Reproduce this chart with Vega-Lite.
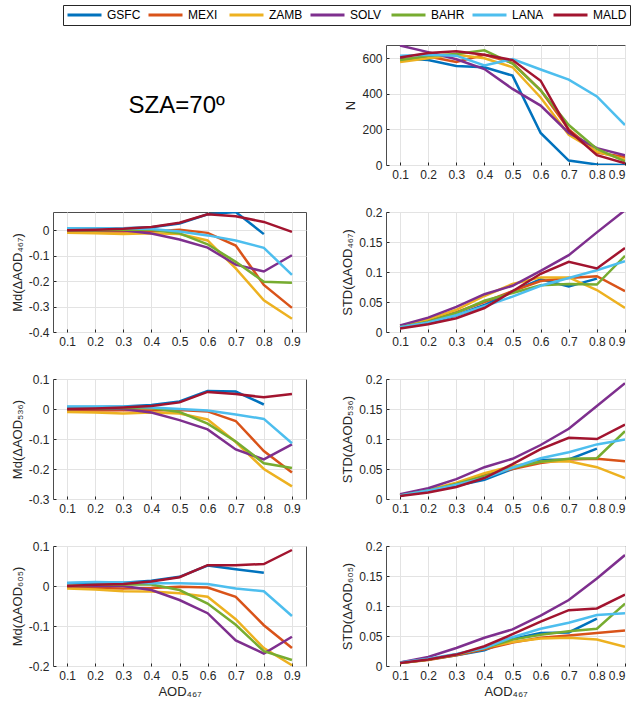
{
  "$schema": "https://vega.github.io/schema/vega-lite/v6.json",
  "padding": {"left": 10, "top": 4, "right": 0, "bottom": 0},
  "background": "white",
  "config": {
    "locale": {"number": {"decimal": ".", "thousands": ",", "grouping": [3], "currency": ["$", ""], "minus": "-"}},
    "font": "Liberation Sans",
    "view": {"stroke": "#4d4d4d", "strokeWidth": 1},
    "axis": {
      "labelFont": "Liberation Sans", "labelFontSize": 12, "labelColor": "#262626",
      "titleFont": "Liberation Sans", "titleFontSize": 13, "titleFontWeight": "normal", "titleColor": "#262626",
      "gridColor": "#e3e3e3", "domain": false, "tickColor": "#262626", "tickSize": -3, "labelPadding": 7
    },
    "legend": {
      "orient": "none", "legendX": 10, "legendY": -40, "direction": "horizontal", "columns": 7,
      "gridAlign": "all", "columnPadding": 6, "symbolType": "stroke", "symbolSize": 1156,
      "symbolStrokeWidth": 3, "labelOffset": 4, "labelFontSize": 12, "labelFont": "Liberation Sans",
      "labelColor": "#000000", "strokeColor": "#262626", "fillColor": "white", "padding": 3, "title": null,
      "clipHeight": 14
    }
  },
  "data": {"values": [
    {"station":"GSFC","aod":0.1,"N":600,"md467":0.005,"std467":0.008,"md536":0.007,"std536":0.006,"md605":0.007,"std605":0.006},
    {"station":"GSFC","aod":0.2,"N":590,"md467":0.005,"std467":0.015,"md536":0.007,"std536":0.013,"md605":0.008,"std605":0.011},
    {"station":"GSFC","aod":0.3,"N":557,"md467":0.008,"std467":0.028,"md536":0.008,"std536":0.022,"md605":0.008,"std605":0.018},
    {"station":"GSFC","aod":0.4,"N":550,"md467":0.012,"std467":0.045,"md536":0.013,"std536":0.032,"md605":0.013,"std605":0.026},
    {"station":"GSFC","aod":0.5,"N":503,"md467":0.027,"std467":0.068,"md536":0.025,"std536":0.05,"md605":0.023,"std605":0.045},
    {"station":"GSFC","aod":0.6,"N":180,"md467":0.063,"std467":0.088,"md536":0.06,"std536":0.065,"md605":0.051,"std605":0.055},
    {"station":"GSFC","aod":0.7,"N":25,"md467":0.072,"std467":0.076,"md536":0.058,"std536":0.066,"md605":0.042,"std605":0.056},
    {"station":"GSFC","aod":0.8,"N":3,"md467":-0.015,"std467":0.089,"md536":0.015,"std536":0.084,"md605":0.033,"std605":0.079},
    {"station":"GSFC","aod":0.9,"N":0,"md467":null,"std467":null,"md536":null,"std536":null,"md605":null,"std605":null},
    {"station":"MEXI","aod":0.1,"N":590,"md467":-0.005,"std467":0.008,"md536":-0.005,"std536":0.006,"md605":-0.004,"std605":0.005},
    {"station":"MEXI","aod":0.2,"N":610,"md467":-0.005,"std467":0.018,"md536":-0.005,"std536":0.014,"md605":-0.005,"std605":0.01},
    {"station":"MEXI","aod":0.3,"N":580,"md467":-0.005,"std467":0.033,"md536":-0.004,"std536":0.025,"md605":-0.006,"std605":0.018},
    {"station":"MEXI","aod":0.4,"N":620,"md467":-0.005,"std467":0.05,"md536":-0.005,"std536":0.04,"md605":-0.005,"std605":0.028},
    {"station":"MEXI","aod":0.5,"N":575,"md467":0.002,"std467":0.068,"md536":-0.003,"std536":0.05,"md605":-0.002,"std605":0.039},
    {"station":"MEXI","aod":0.6,"N":420,"md467":-0.01,"std467":0.085,"md536":-0.008,"std536":0.06,"md605":-0.004,"std605":0.047},
    {"station":"MEXI","aod":0.7,"N":200,"md467":-0.06,"std467":0.09,"md536":-0.04,"std536":0.066,"md605":-0.027,"std605":0.051},
    {"station":"MEXI","aod":0.8,"N":70,"md467":-0.215,"std467":0.093,"md536":-0.14,"std536":0.067,"md605":-0.098,"std605":0.055},
    {"station":"MEXI","aod":0.9,"N":45,"md467":-0.305,"std467":0.068,"md536":-0.212,"std536":0.063,"md605":-0.155,"std605":0.059},
    {"station":"ZAMB","aod":0.1,"N":580,"md467":-0.01,"std467":0.01,"md536":-0.01,"std536":0.007,"md605":-0.006,"std605":0.005},
    {"station":"ZAMB","aod":0.2,"N":600,"md467":-0.012,"std467":0.021,"md536":-0.012,"std536":0.015,"md605":-0.009,"std605":0.011},
    {"station":"ZAMB","aod":0.3,"N":620,"md467":-0.015,"std467":0.037,"md536":-0.015,"std536":0.027,"md605":-0.013,"std605":0.019},
    {"station":"ZAMB","aod":0.4,"N":600,"md467":-0.012,"std467":0.06,"md536":-0.012,"std536":0.043,"md605":-0.014,"std605":0.031},
    {"station":"ZAMB","aod":0.5,"N":550,"md467":-0.015,"std467":0.08,"md536":-0.015,"std536":0.055,"md605":-0.018,"std605":0.04},
    {"station":"ZAMB","aod":0.6,"N":380,"md467":-0.04,"std467":0.091,"md536":-0.035,"std536":0.062,"md605":-0.027,"std605":0.046},
    {"station":"ZAMB","aod":0.7,"N":170,"md467":-0.15,"std467":0.091,"md536":-0.11,"std536":0.063,"md605":-0.083,"std605":0.047},
    {"station":"ZAMB","aod":0.8,"N":75,"md467":-0.275,"std467":0.07,"md536":-0.2,"std536":0.053,"md605":-0.155,"std605":0.044},
    {"station":"ZAMB","aod":0.9,"N":30,"md467":-0.348,"std467":0.04,"md536":-0.258,"std536":0.035,"md605":-0.198,"std605":0.032},
    {"station":"SOLV","aod":0.1,"N":672,"md467":0.0,"std467":0.011,"md536":0.0,"std536":0.008,"md605":0.0,"std605":0.006},
    {"station":"SOLV","aod":0.2,"N":635,"md467":0.0,"std467":0.024,"md536":0.0,"std536":0.018,"md605":0.0,"std605":0.015},
    {"station":"SOLV","aod":0.3,"N":595,"md467":0.0,"std467":0.042,"md536":0.0,"std536":0.033,"md605":0.0,"std605":0.03},
    {"station":"SOLV","aod":0.4,"N":540,"md467":-0.013,"std467":0.063,"md536":-0.012,"std536":0.053,"md605":-0.01,"std605":0.047},
    {"station":"SOLV","aod":0.5,"N":428,"md467":-0.036,"std467":0.077,"md536":-0.037,"std536":0.067,"md605":-0.035,"std605":0.061},
    {"station":"SOLV","aod":0.6,"N":334,"md467":-0.068,"std467":0.102,"md536":-0.068,"std536":0.09,"md605":-0.068,"std605":0.084},
    {"station":"SOLV","aod":0.7,"N":180,"md467":-0.135,"std467":0.128,"md536":-0.135,"std536":0.117,"md605":-0.136,"std605":0.11},
    {"station":"SOLV","aod":0.8,"N":95,"md467":-0.162,"std467":0.166,"md536":-0.168,"std536":0.155,"md605":-0.169,"std605":0.146},
    {"station":"SOLV","aod":0.9,"N":55,"md467":-0.098,"std467":0.203,"md536":-0.118,"std536":0.193,"md605":-0.127,"std605":0.185},
    {"station":"BAHR","aod":0.1,"N":590,"md467":0.0,"std467":0.008,"md536":0.0,"std536":0.006,"md605":0.0,"std605":0.005},
    {"station":"BAHR","aod":0.2,"N":615,"md467":0.0,"std467":0.017,"md536":0.002,"std536":0.014,"md605":0.003,"std605":0.011},
    {"station":"BAHR","aod":0.3,"N":625,"md467":0.002,"std467":0.032,"md536":0.003,"std536":0.025,"md605":0.004,"std605":0.019},
    {"station":"BAHR","aod":0.4,"N":645,"md467":0.002,"std467":0.052,"md536":0.003,"std536":0.038,"md605":0.004,"std605":0.03},
    {"station":"BAHR","aod":0.5,"N":570,"md467":-0.012,"std467":0.065,"md536":-0.01,"std536":0.052,"md605":-0.01,"std605":0.044},
    {"station":"BAHR","aod":0.6,"N":420,"md467":-0.055,"std467":0.078,"md536":-0.049,"std536":0.062,"md605":-0.044,"std605":0.052},
    {"station":"BAHR","aod":0.7,"N":225,"md467":-0.124,"std467":0.08,"md536":-0.108,"std536":0.067,"md605":-0.097,"std605":0.058},
    {"station":"BAHR","aod":0.8,"N":90,"md467":-0.202,"std467":0.079,"md536":-0.181,"std536":0.068,"md605":-0.163,"std605":0.062},
    {"station":"BAHR","aod":0.9,"N":20,"md467":-0.206,"std467":0.127,"md536":-0.197,"std536":0.113,"md605":-0.185,"std605":0.104},
    {"station":"LANA","aod":0.1,"N":615,"md467":0.008,"std467":0.008,"md536":0.008,"std536":0.006,"md605":0.008,"std605":0.006},
    {"station":"LANA","aod":0.2,"N":620,"md467":0.008,"std467":0.016,"md536":0.008,"std536":0.014,"md605":0.01,"std605":0.012},
    {"station":"LANA","aod":0.3,"N":615,"md467":0.008,"std467":0.028,"md536":0.008,"std536":0.024,"md605":0.009,"std605":0.02},
    {"station":"LANA","aod":0.4,"N":560,"md467":0.005,"std467":0.043,"md536":0.005,"std536":0.035,"md605":0.007,"std605":0.03},
    {"station":"LANA","aod":0.5,"N":596,"md467":-0.005,"std467":0.059,"md536":0.0,"std536":0.052,"md605":0.007,"std605":0.048},
    {"station":"LANA","aod":0.6,"N":537,"md467":-0.02,"std467":0.077,"md536":-0.005,"std536":0.068,"md605":0.005,"std605":0.062},
    {"station":"LANA","aod":0.7,"N":480,"md467":-0.04,"std467":0.09,"md536":-0.018,"std536":0.078,"md605":-0.006,"std605":0.072},
    {"station":"LANA","aod":0.8,"N":386,"md467":-0.069,"std467":0.103,"md536":-0.033,"std536":0.091,"md605":-0.013,"std605":0.085},
    {"station":"LANA","aod":0.9,"N":225,"md467":-0.175,"std467":0.118,"md536":-0.114,"std536":0.099,"md605":-0.075,"std605":0.088},
    {"station":"MALD","aod":0.1,"N":605,"md467":0.0,"std467":0.006,"md536":0.0,"std536":0.005,"md605":0.0,"std605":0.005},
    {"station":"MALD","aod":0.2,"N":630,"md467":0.002,"std467":0.013,"md536":0.002,"std536":0.011,"md605":0.003,"std605":0.011},
    {"station":"MALD","aod":0.3,"N":640,"md467":0.006,"std467":0.023,"md536":0.005,"std536":0.02,"md605":0.005,"std605":0.019},
    {"station":"MALD","aod":0.4,"N":620,"md467":0.013,"std467":0.04,"md536":0.01,"std536":0.035,"md605":0.011,"std605":0.033},
    {"station":"MALD","aod":0.5,"N":590,"md467":0.03,"std467":0.068,"md536":0.022,"std536":0.058,"md605":0.022,"std605":0.053},
    {"station":"MALD","aod":0.6,"N":474,"md467":0.063,"std467":0.097,"md536":0.057,"std536":0.083,"md605":0.052,"std605":0.074},
    {"station":"MALD","aod":0.7,"N":195,"md467":0.055,"std467":0.117,"md536":0.05,"std536":0.102,"md605":0.052,"std605":0.093},
    {"station":"MALD","aod":0.8,"N":55,"md467":0.033,"std467":0.106,"md536":0.039,"std536":0.1,"md605":0.055,"std605":0.096},
    {"station":"MALD","aod":0.9,"N":10,"md467":-0.006,"std467":0.14,"md536":0.05,"std536":0.124,"md605":0.09,"std605":0.119}
  ]},
  "columns": 2,
  "bounds": "flush",
  "spacing": {"row": 47, "column": 80},
  "concat": [
    {
      "width": 253, "height": 120,
      "view": {"stroke": null},
      "data": {"values": [{"label": "SZA=70º"}]},
      "mark": {"type": "text", "fontSize": 24, "font": "Liberation Sans", "color": "#000000"},
      "encoding": {
        "x": {"datum": 0.49, "type": "quantitative", "scale": {"domain": [0.05, 0.95], "nice": false}, "axis": null},
        "y": {"datum": 0.49, "type": "quantitative", "scale": {"domain": [0, 1], "nice": false}, "axis": null},
        "text": {"field": "label", "type": "nominal"}
      }
    },
    {
      "width": 239, "height": 120,
      "mark": {"type": "line", "strokeWidth": 2.5, "clip": true},
      "encoding": {
        "x": {"field": "aod", "type": "quantitative", "scale": {"domain": [0.05, 0.9], "nice": false}, "axis": {"values": [0.1,0.2,0.3,0.4,0.5,0.6,0.7,0.8,0.9], "title": null}},
        "y": {"field": "N", "type": "quantitative", "scale": {"domain": [0, 675], "nice": false}, "axis": {"values": [0,200,400,600], "title": "N"}},
        "color": {"field": "station", "type": "nominal", "scale": {"domain": ["GSFC","MEXI","ZAMB","SOLV","BAHR","LANA","MALD"], "range": ["#0072BD","#D95319","#EDB120","#7E2F8E","#77AC30","#4DBEEE","#A2142F"]}}
      }
    },
    {
      "width": 253, "height": 120,
      "mark": {"type": "line", "strokeWidth": 2.5, "clip": true},
      "encoding": {
        "x": {"field": "aod", "type": "quantitative", "scale": {"domain": [0.05, 0.95], "nice": false}, "axis": {"values": [0.1,0.2,0.3,0.4,0.5,0.6,0.7,0.8,0.9], "title": null}},
        "y": {"field": "md467", "type": "quantitative", "scale": {"domain": [-0.4, 0.072], "nice": false, "zero": false}, "axis": {"values": [-0.4,-0.3,-0.2,-0.1,0], "format": ".1~f", "title": "Md(ΔAOD₄₆₇)"}},
        "color": {"field": "station", "type": "nominal"}
      }
    },
    {
      "width": 239, "height": 120,
      "mark": {"type": "line", "strokeWidth": 2.5, "clip": true},
      "encoding": {
        "x": {"field": "aod", "type": "quantitative", "scale": {"domain": [0.05, 0.9], "nice": false}, "axis": {"values": [0.1,0.2,0.3,0.4,0.5,0.6,0.7,0.8,0.9], "title": null}},
        "y": {"field": "std467", "type": "quantitative", "scale": {"domain": [0, 0.2], "nice": false}, "axis": {"values": [0,0.05,0.1,0.15,0.2], "format": ".2~f", "title": "STD(ΔAOD₄₆₇)"}},
        "color": {"field": "station", "type": "nominal"}
      }
    },
    {
      "width": 253, "height": 120,
      "mark": {"type": "line", "strokeWidth": 2.5, "clip": true},
      "encoding": {
        "x": {"field": "aod", "type": "quantitative", "scale": {"domain": [0.05, 0.95], "nice": false}, "axis": {"values": [0.1,0.2,0.3,0.4,0.5,0.6,0.7,0.8,0.9], "title": null}},
        "y": {"field": "md536", "type": "quantitative", "scale": {"domain": [-0.3, 0.1], "nice": false, "zero": false}, "axis": {"values": [-0.3,-0.2,-0.1,0,0.1], "format": ".1~f", "title": "Md(ΔAOD₅₃₆)"}},
        "color": {"field": "station", "type": "nominal"}
      }
    },
    {
      "width": 239, "height": 120,
      "mark": {"type": "line", "strokeWidth": 2.5, "clip": true},
      "encoding": {
        "x": {"field": "aod", "type": "quantitative", "scale": {"domain": [0.05, 0.9], "nice": false}, "axis": {"values": [0.1,0.2,0.3,0.4,0.5,0.6,0.7,0.8,0.9], "title": null}},
        "y": {"field": "std536", "type": "quantitative", "scale": {"domain": [0, 0.2], "nice": false}, "axis": {"values": [0,0.05,0.1,0.15,0.2], "format": ".2~f", "title": "STD(ΔAOD₅₃₆)"}},
        "color": {"field": "station", "type": "nominal"}
      }
    },
    {
      "width": 253, "height": 120,
      "mark": {"type": "line", "strokeWidth": 2.5, "clip": true},
      "encoding": {
        "x": {"field": "aod", "type": "quantitative", "scale": {"domain": [0.05, 0.95], "nice": false}, "axis": {"values": [0.1,0.2,0.3,0.4,0.5,0.6,0.7,0.8,0.9], "title": "AOD₄₆₇"}},
        "y": {"field": "md605", "type": "quantitative", "scale": {"domain": [-0.2, 0.1], "nice": false, "zero": false}, "axis": {"values": [-0.2,-0.1,0,0.1], "format": ".1~f", "title": "Md(ΔAOD₆₀₅)"}},
        "color": {"field": "station", "type": "nominal"}
      }
    },
    {
      "width": 239, "height": 120,
      "mark": {"type": "line", "strokeWidth": 2.5, "clip": true},
      "encoding": {
        "x": {"field": "aod", "type": "quantitative", "scale": {"domain": [0.05, 0.9], "nice": false}, "axis": {"values": [0.1,0.2,0.3,0.4,0.5,0.6,0.7,0.8,0.9], "title": "AOD₄₆₇"}},
        "y": {"field": "std605", "type": "quantitative", "scale": {"domain": [0, 0.2], "nice": false}, "axis": {"values": [0,0.05,0.1,0.15,0.2], "format": ".2~f", "title": "STD(ΔAOD₆₀₅)"}},
        "color": {"field": "station", "type": "nominal"}
      }
    }
  ]
}
